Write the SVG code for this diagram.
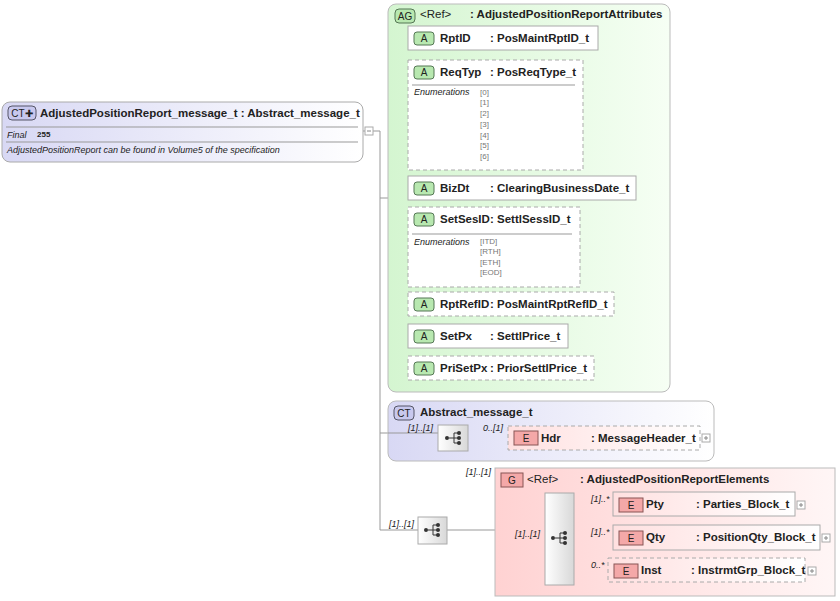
<svg xmlns="http://www.w3.org/2000/svg" width="840" height="601" viewBox="0 0 840 601">
<defs>
<linearGradient id="gCT" x1="0" y1="0" x2="1" y2="0"><stop offset="0" stop-color="#d8d8f4"/><stop offset="1" stop-color="#ffffff"/></linearGradient>
<linearGradient id="gAG" x1="0" y1="0" x2="1" y2="0"><stop offset="0" stop-color="#d4f5d0"/><stop offset="1" stop-color="#f6fff4"/></linearGradient>
<linearGradient id="gG" x1="0" y1="0" x2="1" y2="0"><stop offset="0" stop-color="#ffd2d2"/><stop offset="1" stop-color="#fff6f6"/></linearGradient>
<linearGradient id="gE" x1="0" y1="0" x2="1" y2="0"><stop offset="0" stop-color="#ffe0e0"/><stop offset="1" stop-color="#ffffff"/></linearGradient>
<linearGradient id="gSeq" x1="0" y1="0" x2="1" y2="0"><stop offset="0" stop-color="#ffffff"/><stop offset="1" stop-color="#d8d8d8"/></linearGradient>
<g id="seqIcon"><circle cx="-7" cy="0" r="2" fill="#333"/><path d="M-5 0H0M0 -5V5M0 -5H4M0 0H4M0 5H4" stroke="#333" fill="none"/><circle cx="5" cy="-5" r="2" fill="#333"/><circle cx="5" cy="0" r="2" fill="#333"/><circle cx="5" cy="5" r="2" fill="#333"/></g>
<g id="plus"><rect x="0" y="-4" width="8" height="8" fill="#fff" stroke="#aaa"/><path d="M2 0H6M4 -2V2" stroke="#888"/></g>
</defs>
<style>
text{font-family:"Liberation Sans",Arial,sans-serif;font-size:11.5px;fill:#222}
.b{font-weight:bold}
.i{font-style:italic;font-size:9px}
.en{font-size:8px;fill:#777}
.ln{stroke:#999;fill:none}
.attr{fill:#fff;stroke:#aaa}
.dash{stroke-dasharray:4,3}
.badgeA{fill:#b8e8b0;stroke:#557755}
.badgeE{fill:#f4a8a8;stroke:#885555}
.bt{font-size:10px;text-anchor:middle}
.seq{fill:url(#gSeq);stroke:#aaa}
</style>
<g id="connectors">
<path class="ln" d="M363 131H380V530M380 198H388M380 433H438M468 438H508M380 530H418M447 530H545M574 505H613M574 538H613M574 571H608"/>
<path class="ln" d="M398 38V368M398 38H408M398 115H408M398 188H408M398 247H408M398 304H408M398 336H408M398 368H408"/>
</g>
<g id="main">
<rect x="2" y="102" width="361" height="60" rx="8" fill="url(#gCT)" stroke="#aaa"/>
<rect x="8" y="106" width="28" height="14" rx="4" fill="#c8c8ee" stroke="#556"/>
<text x="22" y="117" class="bt">CT✚</text>
<text x="40" y="117" class="b">AdjustedPositionReport_message_t : Abstract_message_t</text>
<path d="M6 127H358M6 142H358" stroke="#999"/>
<text x="7" y="138" class="i">Final</text>
<text x="37" y="137" class="b" style="font-size:8px">255</text>
<text x="7" y="153" class="i">AdjustedPositionReport can be found in Volume5 of the specification</text>
<rect x="365" y="127" width="8" height="8" fill="#fff" stroke="#aaa"/><path d="M367 131H371" stroke="#888"/>
</g>
<g id="ag">
<rect x="388" y="4" width="282" height="388" rx="8" fill="url(#gAG)" stroke="#bbb"/>
<rect x="395" y="9" width="20" height="14" rx="4" class="badgeA"/><text x="405" y="20" class="bt">AG</text>
<text x="420" y="18">&lt;Ref&gt;</text><text x="470" y="18" class="b">: AdjustedPositionReportAttributes</text>
</g>
<g id="RptID"><rect x="408" y="26" width="190" height="24" class="attr"/><rect x="414" y="32" width="20" height="13" rx="3" class="badgeA"/><text x="424" y="42" class="bt">A</text><text x="440" y="42" class="b">RptID</text><text x="490" y="42" class="b">: PosMaintRptID_t</text></g>
<g id="ReqTyp"><rect x="408" y="60" width="175" height="110" class="attr dash"/><rect x="414" y="66" width="20" height="13" rx="3" class="badgeA"/><text x="424" y="76" class="bt">A</text><text x="440" y="76" class="b">ReqTyp</text><text x="490" y="76" class="b">: PosReqType_t</text><path d="M412 85H575" stroke="#999"/><text x="414" y="95" class="i">Enumerations</text>
<text x="480" y="95" class="en">[0]</text><text x="480" y="105" class="en">[1]</text><text x="480" y="116" class="en">[2]</text><text x="480" y="127" class="en">[3]</text><text x="480" y="138" class="en">[4]</text><text x="480" y="148" class="en">[5]</text><text x="480" y="159" class="en">[6]</text></g>
<g id="BizDt"><rect x="408" y="176" width="228" height="24" class="attr"/><rect x="414" y="182" width="20" height="13" rx="3" class="badgeA"/><text x="424" y="192" class="bt">A</text><text x="440" y="192" class="b">BizDt</text><text x="490" y="192" class="b">: ClearingBusinessDate_t</text></g>
<g id="SetSesID"><rect x="408" y="207" width="172" height="80" class="attr dash"/><rect x="414" y="213" width="20" height="13" rx="3" class="badgeA"/><text x="424" y="223" class="bt">A</text><text x="440" y="223" class="b">SetSesID</text><text x="490" y="223" class="b">: SettlSessID_t</text><path d="M412 234H572" stroke="#999"/><text x="414" y="245" class="i">Enumerations</text>
<text x="480" y="244" class="en">[ITD]</text><text x="480" y="254" class="en">[RTH]</text><text x="480" y="265" class="en">[ETH]</text><text x="480" y="275" class="en">[EOD]</text></g>
<g id="RptRefID"><rect x="408" y="292" width="206" height="24" class="attr dash"/><rect x="414" y="298" width="20" height="13" rx="3" class="badgeA"/><text x="424" y="308" class="bt">A</text><text x="440" y="308" class="b">RptRefID</text><text x="490" y="308" class="b">: PosMaintRptRefID_t</text></g>
<g id="SetPx"><rect x="408" y="324" width="160" height="24" class="attr"/><rect x="414" y="330" width="20" height="13" rx="3" class="badgeA"/><text x="424" y="340" class="bt">A</text><text x="440" y="340" class="b">SetPx</text><text x="490" y="340" class="b">: SettlPrice_t</text></g>
<g id="PriSetPx"><rect x="408" y="356" width="186" height="24" class="attr dash"/><rect x="414" y="362" width="20" height="13" rx="3" class="badgeA"/><text x="424" y="372" class="bt">A</text><text x="440" y="372" class="b">PriSetPx</text><text x="490" y="372" class="b">: PriorSettlPrice_t</text></g>
<g id="abstract">
<rect x="388" y="401" width="326" height="60" rx="8" fill="url(#gCT)" stroke="#bbb"/>
<rect x="394" y="406" width="20" height="14" rx="4" fill="#c8c8ee" stroke="#556"/><text x="404" y="417" class="bt">CT</text>
<text x="420" y="416" class="b">Abstract_message_t</text>
<path d="M388 433H438" stroke="#999"/>
<text x="408" y="431" class="i">[1]..[1]</text>
<rect x="438" y="425" width="30" height="26" class="seq"/><use href="#seqIcon" x="454" y="438"/>
<text x="483" y="431" class="i">0..[1]</text>
</g>
<g id="Hdr"><rect x="508" y="426" width="192" height="24" fill="url(#gE)" stroke="#aaa" class="dash"/><rect x="514" y="431" width="24" height="14" class="badgeE"/><text x="526" y="442" class="bt">E</text><text x="541" y="442" class="b">Hdr</text><text x="591" y="442" class="b">: MessageHeader_t</text><use href="#plus" x="702" y="438"/></g>
<g id="seqOuter"><text x="389" y="527" class="i">[1]..[1]</text><rect x="418" y="517" width="29" height="27" class="seq"/><use href="#seqIcon" x="433" y="530"/></g>
<g id="group">
<text x="466" y="475" class="i">[1]..[1]</text>
<rect x="495" y="468" width="340" height="128" fill="url(#gG)" stroke="#bbb"/>
<rect x="501" y="473" width="22" height="14" class="badgeE"/><text x="512" y="484" class="bt">G</text>
<text x="527" y="483">&lt;Ref&gt;</text><text x="580" y="483" class="b">: AdjustedPositionReportElements</text>
<text x="515" y="537" class="i">[1]..[1]</text>
<rect x="545" y="493" width="29" height="92" class="seq"/><use href="#seqIcon" x="560" y="538"/>
<text x="591" y="502" class="i">[1]..*</text><text x="591" y="535" class="i">[1]..*</text><text x="591" y="568" class="i">0..*</text>
</g>
<g id="Pty"><rect x="613" y="492" width="182" height="24" fill="url(#gE)" stroke="#aaa"/><rect x="619" y="498" width="24" height="14" class="badgeE"/><text x="631" y="509" class="bt">E</text><text x="646" y="508" class="b">Pty</text><text x="696" y="508" class="b">: Parties_Block_t</text><use href="#plus" x="797" y="505"/></g>
<g id="Qty"><rect x="613" y="525" width="207" height="25" fill="url(#gE)" stroke="#aaa"/><rect x="619" y="531" width="24" height="14" class="badgeE"/><text x="631" y="542" class="bt">E</text><text x="646" y="541" class="b">Qty</text><text x="696" y="541" class="b">: PositionQty_Block_t</text><use href="#plus" x="822" y="538"/></g>
<g id="Inst"><rect x="608" y="558" width="197" height="24" fill="url(#gE)" stroke="#aaa" class="dash"/><rect x="614" y="564" width="24" height="14" class="badgeE"/><text x="626" y="575" class="bt">E</text><text x="641" y="574" class="b">Inst</text><text x="691" y="574" class="b">: InstrmtGrp_Block_t</text><use href="#plus" x="808" y="571"/></g>
</svg>
